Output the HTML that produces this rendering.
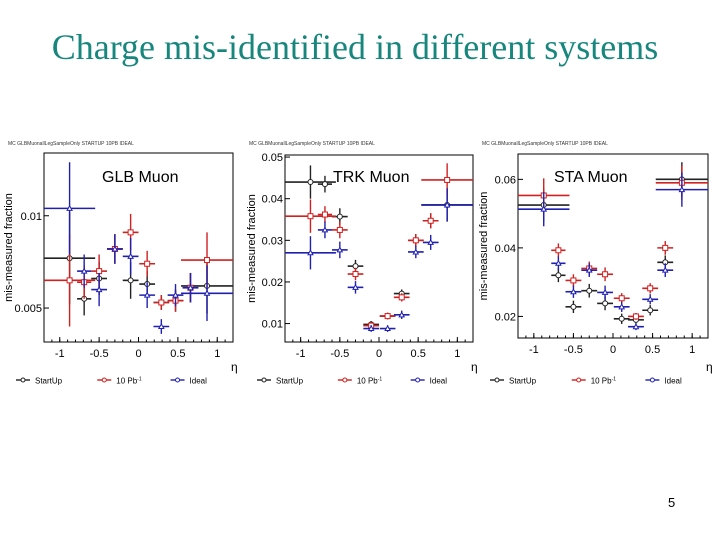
<!DOCTYPE html>
<html><head><meta charset="utf-8">
<style>
body{margin:0;background:#fff;width:720px;height:540px;overflow:hidden;font-family:"Liberation Sans",sans-serif}
#title{position:absolute;left:0;top:26px;width:710px;text-align:center;font-family:"Liberation Serif",serif;font-size:36px;color:#17877e;white-space:nowrap}
#pnum{position:absolute;left:668px;top:495px;font-size:13px}
svg{position:absolute;left:0;top:0}
</style></head><body>
<div id="title">Charge mis-identified in different systems</div>
<div id="pnum">5</div>
<svg id="c" width="720" height="540"></svg>
<script>
const etaCenters=[-0.875,-0.69,-0.5,-0.3,-0.1,0.11,0.29,0.47,0.66,0.87];
const etaHalf=[0.325,0.09,0.1,0.1,0.1,0.1,0.1,0.1,0.1,0.33];
const glbStart=[0.0077,0.0055,0.0066,0.0082,0.0065,0.0063,0.0053,0.0054,0.0061,0.0062];
const glbTen=[0.0065,0.0064,0.0070,0.0082,0.0091,0.0074,0.0053,0.0054,0.0061,0.0076];
const glbIdeal=[0.0104,0.0070,0.0060,0.0082,0.0078,0.0057,0.0040,0.0057,0.0061,0.0058];
const glbErr=[0.0025,0.0009,0.0009,0.0008,0.0010,0.0007,0.0004,0.0006,0.0008,0.0015];
const trkStart=[0.044,0.0435,0.0357,0.0238,0.0098,0.0118,0.0172,0.030,0.0347,0.0385];
const trkTen=[0.0358,0.0362,0.0325,0.0219,0.0095,0.0118,0.0163,0.030,0.0347,0.0445];
const trkIdeal=[0.027,0.0325,0.0277,0.0187,0.0088,0.0088,0.0121,0.0272,0.0295,0.0385];
const trkErr=[0.004,0.002,0.002,0.0015,0.0008,0.0008,0.001,0.0015,0.0018,0.004];
const staStart=[0.0525,0.032,0.0228,0.0275,0.0238,0.0193,0.019,0.0218,0.0358,0.060];
const staTen=[0.0553,0.0393,0.0305,0.0340,0.0323,0.0253,0.0200,0.0282,0.0400,0.059];
const staIdeal=[0.0513,0.0355,0.0272,0.0335,0.0270,0.0228,0.0170,0.0250,0.0335,0.0570];
const staErr=[0.005,0.002,0.0018,0.002,0.002,0.0015,0.001,0.0015,0.002,0.005];
const xTicks=[-1,-0.5,0,0.5,1];
const xTickLabels=["-1","-0.5","0","0.5","1"];
const glbYTicks=[0.005,0.01],glbYLabels=["0.005","0.01"];
const trkYTicks=[0.01,0.02,0.03,0.04,0.05],trkYLabels=["0.01","0.02","0.03","0.04","0.05"];
const staYTicks=[0.02,0.04,0.06],staYLabels=["0.02","0.04","0.06"];
const seriesNames=["StartUp","10 Pb","Ideal"];
const colors=["#222","#d02020","#2020b0"];

const svg=document.getElementById('c');
const NS='http://www.w3.org/2000/svg';
function mk(t,a,p){const e=document.createElementNS(NS,t);for(const k in a)e.setAttribute(k,a[k]);(p||svg).appendChild(e);return e;}

function panel(key,box,ymin,ymax,yT,yL,data,err,label,labelX,ylabX){
  const g=mk('g',{});
  
  
  const xs=v=>box.x0+(v+1.2)/2.4*(box.x1-box.x0);
  const ys=v=>box.y1-(v-ymin)/(ymax-ymin)*(box.y1-box.y0);
  const hdr=mk('text',{x:box.x0-36,y:145,'font-size':5,fill:'#333'},g);hdr.textContent='MC GLBMuonallLegSampleOnly STARTUP 10PB IDEAL';
  
  const fr=mk('rect',{x:box.x0,y:box.y0,width:box.x1-box.x0,height:box.y1-box.y0,fill:'none',stroke:'#000','stroke-width':1},g);
  
  xTicks.forEach((t,i)=>{
    mk('line',{x1:xs(t),x2:xs(t),y1:box.y1,y2:box.y1-5,stroke:'#000'},g);
    const tx=mk('text',{x:xs(t),y:box.y1+15,'font-size':11,'text-anchor':'middle'},g);tx.textContent=xTickLabels[i];
    
  });
  for(let v=-1.2;v<=1.2;v+=0.1)mk('line',{x1:xs(v),x2:xs(v),y1:box.y1,y2:box.y1-2.5,stroke:'#000'},g);
  yT.forEach((t,i)=>{
    mk('line',{x1:box.x0,x2:box.x0+5,y1:ys(t),y2:ys(t),stroke:'#000'},g);
    const tx=mk('text',{x:box.x0-2,y:ys(t)+4,'font-size':11,'text-anchor':'end'},g);tx.textContent=yL[i];
    
  });
  const yl=mk('text',{x:0,y:0,'font-size':11,'text-anchor':'middle',transform:`translate(${ylabX},${(box.y0+box.y1)/2}) rotate(-90)`},g);
  yl.textContent='mis-measured fraction';
  const el=mk('text',{x:box.x1-2,y:371,'font-size':12},g);el.textContent='η';
  
  const lb=mk('text',{x:labelX,y:182,'font-size':16},g);lb.textContent=label;
  
  data.forEach((vals,s)=>{
    const c=colors[s];
    vals.forEach((v,i)=>{
      const cx=xs(etaCenters[i]),cy=ys(v);
      const pt=mk('g',{},g);
      
      
      const xl=Math.max(box.x0,xs(etaCenters[i]-etaHalf[i])),xr=Math.min(box.x1,xs(etaCenters[i]+etaHalf[i]));
      mk('line',{x1:xl,x2:xr,y1:cy,y2:cy,stroke:c,'stroke-width':1.6},pt);
      mk('line',{x1:cx,x2:cx,y1:ys(v-err[i]),y2:ys(v+err[i]),stroke:c,'stroke-width':1.4},pt);
      if(s===0)mk('circle',{cx:cx,cy:cy,r:2.5,fill:'#fff',stroke:c},pt);
      else if(s===1)mk('rect',{x:cx-2.5,y:cy-2.5,width:5,height:5,fill:'#fff',stroke:c},pt);
      else mk('path',{d:`M${cx-2.5},${cy+2} L${cx+2.5},${cy+2} L${cx},${cy-2.5}Z`,fill:'#fff',stroke:c},pt);
    });
  });
  seriesNames.forEach((n,s)=>{
    const lx=box.x0-28+s*(box.x1-box.x0)*0.43+ (s===2?-8:0), ly=380;
    const le=mk('g',{},g);
    mk('line',{x1:lx,x2:lx+14,y1:ly,y2:ly,stroke:colors[s],'stroke-width':1.4},le);
    mk('circle',{cx:lx+7,cy:ly,r:2,fill:'#fff',stroke:colors[s]},le);
    const t=mk('text',{x:lx+19,y:ly+3.5,'font-size':8},le);t.textContent=n;
    if(s===1){const sp=mk('tspan',{dy:-3,'font-size':5},t);sp.textContent='-1';}
  });
}
panel('glb',{x0:44,x1:233,y0:153,y1:342},0.00316,0.0134,glbYTicks,glbYLabels,[glbStart,glbTen,glbIdeal],glbErr,'GLB Muon',102,12);
panel('trk',{x0:285,x1:473,y0:155,y1:342},0.00557,0.0505,trkYTicks,trkYLabels,[trkStart,trkTen,trkIdeal],trkErr,'TRK Muon',333,255);
panel('sta',{x0:518,x1:708,y0:154,y1:338},0.0137,0.0674,staYTicks,staYLabels,[staStart,staTen,staIdeal],staErr,'STA Muon',554,487);
</script>
</body></html>
